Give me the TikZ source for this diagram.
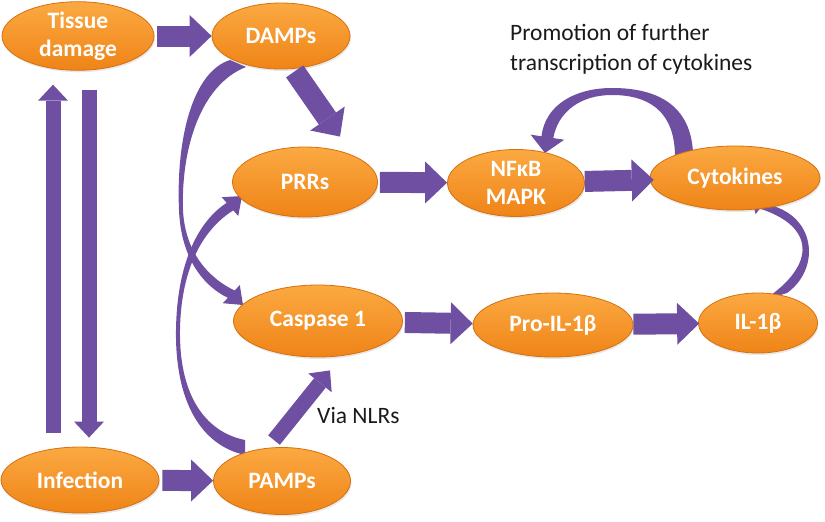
\documentclass[tikz,border=0pt]{standalone}
\usepackage{fontspec}
\setmainfont{Carlito}
\usetikzlibrary{shapes.geometric,arrows.meta,calc,shadows}
\definecolor{orangetop}{HTML}{FBA942}
\definecolor{orangebot}{HTML}{EF8417}
\definecolor{orangerim}{HTML}{D6700E}
\definecolor{arrowpurple}{HTML}{6F4FA1}
\definecolor{labeltext}{HTML}{1A1A1A}
\pgfdeclarelayer{bg}
\pgfsetlayers{bg,main}
\tikzset{
  blob/.style={ellipse, inner sep=0pt, top color=orangetop, bottom color=orangebot,
    draw=orangerim, line width=0.8pt, text=white, align=center,
    font=\bfseries\fontsize{23.5}{28}\selectfont,
    drop shadow={opacity=0.18, shadow xshift=1pt, shadow yshift=-2pt}},
  block/.style={draw=arrowpurple, line width=21pt, -{Triangle[length=22pt,width=42pt,line width=0pt]}},
  vblock/.style={draw=arrowpurple, line width=15pt, -{Triangle[length=16pt,width=30pt,line width=0pt]}},
  ribbon/.style={fill=arrowpurple},
  lab/.style={text=labeltext, inner sep=0pt, font=\fontsize{23.5}{30}\selectfont}
}

\begin{document}
\begin{tikzpicture}[x=1pt,y=-1pt]
  \useasboundingbox (0,0) rectangle (825,522);

  \node[blob, minimum width=152pt, minimum height=66pt] (tissue) at (78,36) {Tissue\\damage};
  \node[blob, minimum width=138pt, minimum height=66pt] (damps) at (281,36) {DAMPs};
  \node[blob, minimum width=145pt, minimum height=70pt] (prrs) at (305,182) {PRRs};
  \node[blob, minimum width=137pt, minimum height=67pt] (nfkb) at (516,183) {NFκB\\MAPK};
  \node[blob, minimum width=170pt, minimum height=64pt] (cyto) at (735,178) {Cytokines};
  \node[blob, minimum width=169pt, minimum height=72pt] (caspase) at (318,321) {Caspase 1};
  \node[blob, minimum width=160pt, minimum height=64pt] (proil) at (553,325) {Pro-IL-1β};
  \node[blob, minimum width=119pt, minimum height=60pt] (il) at (758,323) {IL-1β};
  \node[blob, minimum width=158pt, minimum height=66pt] (infection) at (80,480) {Infection};
  \node[blob, minimum width=137pt, minimum height=67pt] (pamps) at (282,481) {PAMPs};

  \node[lab, anchor=north west, align=left] (promo) at (510,24) {Promotion of further\\transcription of cytokines};
  \node[lab, anchor=base west] (via) at (317,423) {Via NLRs};

  \draw[block, shorten <=3pt] (tissue) -- (damps);
  \draw[block, shorten <=3pt] (damps.-70) -- ($(prrs.north)+(35,-10)$);
  \draw[block, shorten <=3pt] (infection) -- (pamps);
  \draw[block, shorten <=2pt] (prrs) -- (nfkb);
  \draw[block, shorten >=-4pt] (nfkb) -- (cyto);
  \draw[block, shorten <=2pt] (caspase) -- (proil);
  \draw[block, shorten >=-1pt] (proil) -- (il);
  \draw[vblock] ($(infection.north)+(-27,-14)$) -- ($(tissue.south)+(-25,14)$);
  \draw[vblock] ($(tissue.south)+(11,19)$) -- ($(infection.north)+(9,-9)$);
  \draw[vblock] ($(pamps.north)+(-8,-7)$) -- ($(caspase.south)+(12,13)$);

  \begin{pgfonlayer}{bg}
    % curved ribbons, wide tail and narrow middle
    \fill[ribbon] ($(damps)+(-51,24)$) .. controls (192,72) and (176,140) .. (179,210)
      .. controls (181,260) and (205,287) .. (227.9,297.8) -- (222.8,303.2)
      -- ($(caspase)+(-75,-16)$) -- (239.8,285) -- (234.7,290.5)
      .. controls (212,280) and (185,255) .. (183,210)
      .. controls (181,150) and (200,85) .. ($(damps)+(-35,31)$) -- cycle;
    \fill[ribbon] ($(pamps)+(-37,-26)$) .. controls (200,445) and (175,400) .. (176,330)
      .. controls (177,260) and (200,220) .. (226.7,202.85) -- (221.75,197.2)
      -- ($(prrs)+(-63,14)$) -- (238.25,216) -- (233.3,210.35)
      .. controls (205,228) and (181,265) .. (180,330)
      .. controls (179,395) and (205,432) .. ($(pamps)+(-37,-41)$) -- cycle;
    \fill[ribbon] ($(il)+(29,-30)$) .. controls (822,268) and (816,212) .. (763.4,203.8)
      -- (767.6,198.2) -- ($(cyto)+(17,21)$) -- (755.6,214.2) -- (759.8,208.6)
      .. controls (814,226) and (818,264) .. ($(il)+(6,-23)$) -- cycle;
    \fill[ribbon] ($(cyto)+(-42,-26)$) .. controls (690,100) and (650,88) .. (612,88)
      .. controls (575,88) and (545,105) .. (541.5,136.3) -- (530.6,134.65)
      -- ($(nfkb)+(29,-30)$) -- (564.2,139.75) -- (553.3,138.1)
      .. controls (558,112) and (580,95) .. (612,95)
      .. controls (645,95) and (675,108) .. ($(cyto)+(-60,-21)$) -- cycle;
  \end{pgfonlayer}
\end{tikzpicture}
\end{document}
